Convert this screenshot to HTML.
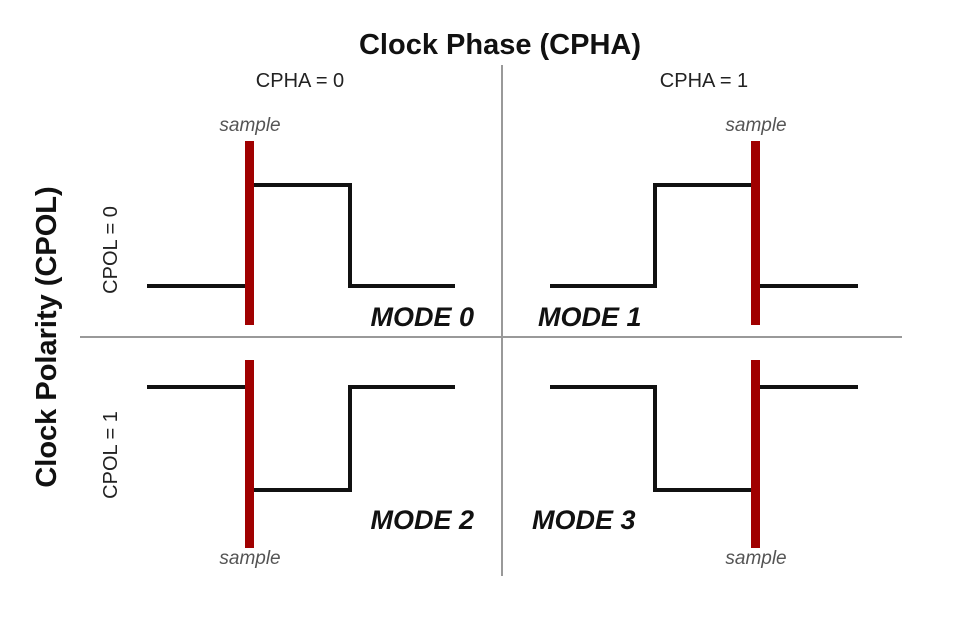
<!DOCTYPE html>
<html><head><style>
html,body{margin:0;padding:0;background:#fff;}
svg{display:block;}
</style></head><body>
<svg width="970" height="627" viewBox="0 0 970 627" xmlns="http://www.w3.org/2000/svg" font-family="Liberation Sans, sans-serif">
<rect width="970" height="627" fill="#fff"/>
<text x="500" y="54" text-anchor="middle" font-size="29" font-weight="bold" fill="#111">Clock Phase (CPHA)</text>
<text x="300" y="87" text-anchor="middle" font-size="20" fill="#222">CPHA = 0</text>
<text x="704" y="87" text-anchor="middle" font-size="20" fill="#222">CPHA = 1</text>
<line x1="502" y1="65" x2="502" y2="576" stroke="#999" stroke-width="2"/>
<line x1="80" y1="337" x2="902" y2="337" stroke="#999" stroke-width="2"/>
<text transform="translate(56,337) rotate(-90)" text-anchor="middle" font-size="29" font-weight="bold" fill="#111">Clock Polarity (CPOL)</text>
<text transform="translate(117,250) rotate(-90)" text-anchor="middle" font-size="20" fill="#222">CPOL = 0</text>
<text transform="translate(117,455) rotate(-90)" text-anchor="middle" font-size="20" fill="#222">CPOL = 1</text>
<g fill="none" stroke="#111" stroke-width="4">
<polyline points="147,286 250,286 250,185 350,185 350,286 455,286"/>
<polyline points="550,286 655,286 655,185 757,185 757,286 858,286"/>
<polyline points="147,387 250,387 250,490 350,490 350,387 455,387"/>
<polyline points="550,387 655,387 655,490 757,490 757,387 858,387"/>
</g>
<g fill="#a00000">
<rect x="245" y="141" width="9" height="184"/>
<rect x="751" y="141" width="9" height="184"/>
<rect x="245" y="360" width="9" height="188"/>
<rect x="751" y="360" width="9" height="188"/>
</g>
<g font-size="19" font-style="italic" fill="#555" text-anchor="middle">
<text x="250" y="131">sample</text>
<text x="756" y="131">sample</text>
<text x="250" y="564">sample</text>
<text x="756" y="564">sample</text>
</g>
<g font-size="27" font-weight="bold" font-style="italic" fill="#111">
<text x="474" y="326" text-anchor="end">MODE 0</text>
<text x="538" y="326">MODE 1</text>
<text x="474" y="529" text-anchor="end">MODE 2</text>
<text x="532" y="529">MODE 3</text>
</g>
</svg>
</body></html>
